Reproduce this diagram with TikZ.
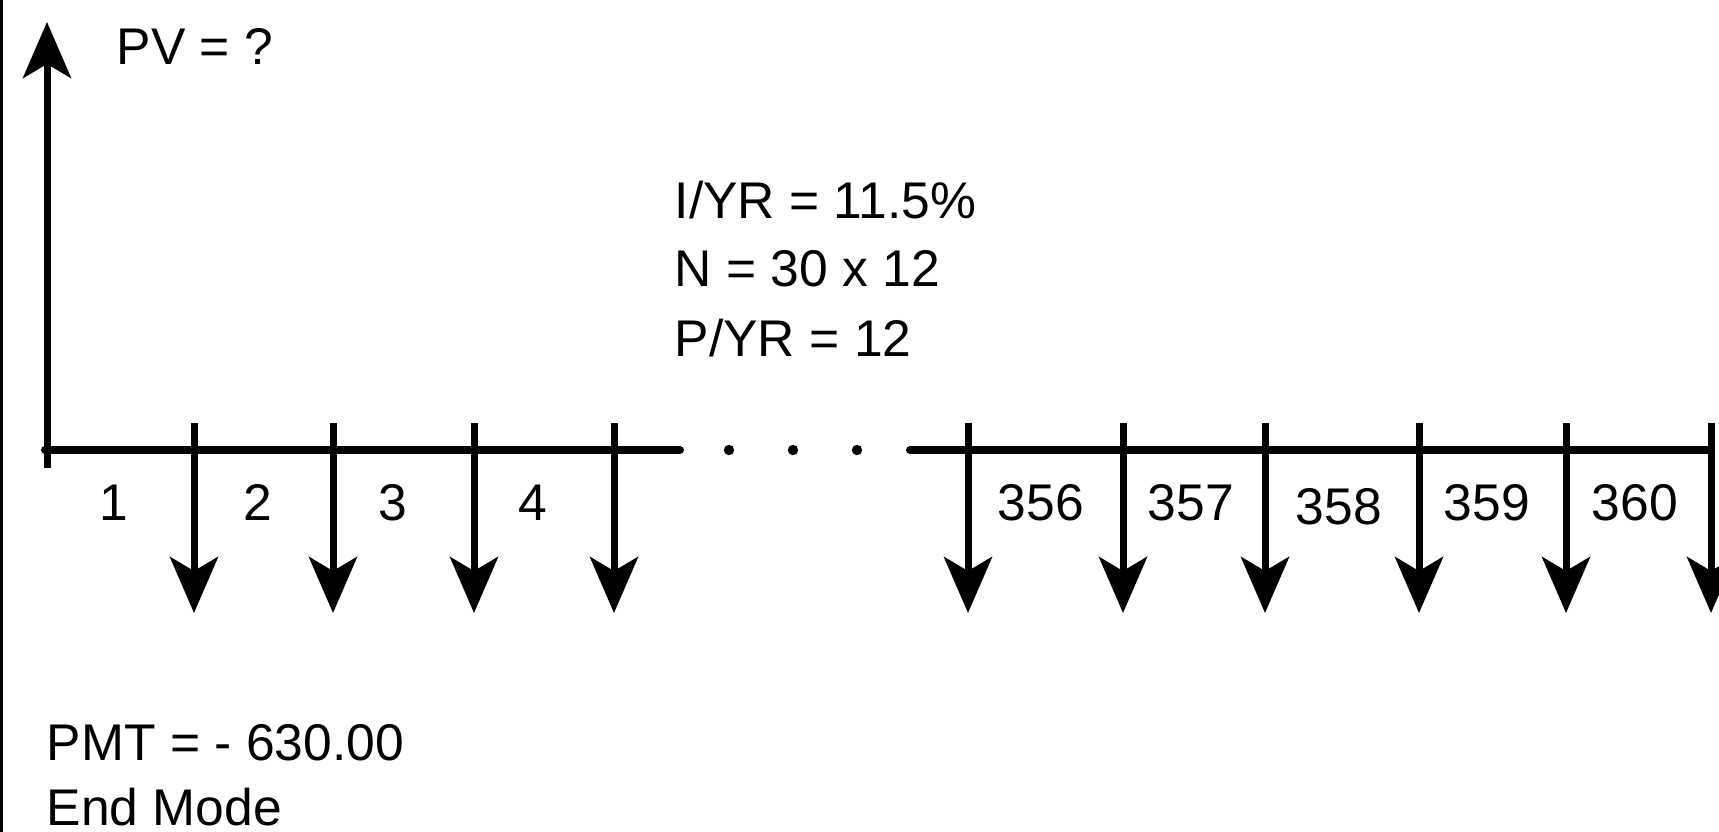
\documentclass[tikz,border=0pt]{standalone}
\usepackage{fontspec}
\setmainfont{Liberation Sans}
\usetikzlibrary{arrows.meta}
\begin{document}
\begin{tikzpicture}[x=0.25pt,y=-0.25pt,
  axisline/.style={line width=2pt, line cap=round},
  flow/.style={line width=1.75pt, -{Stealth[length=14pt,width=12pt,inset=3.5pt]}},
  lbl/.style={inner sep=0pt, anchor=base west, font=\fontsize{12.9pt}{15pt}\selectfont},
  num/.style={inner sep=0pt, anchor=base, font=\fontsize{12.9pt}{15pt}\selectfont},
  dotmark/.style={fill=black}
]
\useasboundingbox (0,0) rectangle (1719,832);
\fill[white] (0,0) rectangle (1719,832);
\clip (0,0) rectangle (1719,832);

% left border
\draw[line width=0.9pt] (1.5,0) -- (1.5,832);

% coordinates of the time line
\coordinate (L0) at (45,450);
\coordinate (L1) at (680,450);
\coordinate (R0) at (910,450);
\coordinate (R1) at (1711,450);
\coordinate (Vb) at (47,468);
\coordinate (Vt) at (47,22);

\draw[axisline] (L0) -- (L1);
\draw[axisline] (R0) -- (R1);
\fill[dotmark] (729,450) circle (1.3pt);
\fill[dotmark] (793,450) circle (1.3pt);
\fill[dotmark] (857,450) circle (1.3pt);

% PV arrow
\draw[flow] (Vb) -- (Vt);

% payment arrows
\foreach \i/\x in {1/194,2/333,3/474,4/614,5/968,6/1123,7/1265,8/1419,9/1566,10/1711}{
  \coordinate (a\i) at (\x,423);
  \coordinate (b\i) at (\x,613);
  \draw[flow] (a\i) -- (b\i);
}

% period labels
\node[num] (p1) at (114,521) {1};
\node[num] (p2) at (258,521) {2};
\node[num] (p3) at (393,521) {3};
\node[num] (p4) at (533,521) {4};
\node[num] (p356) at (1041,521) {356};
\node[num] (p357) at (1191,521) {357};
\node[num] (p358) at (1339,525) {358};
\node[num] (p359) at (1487,521) {359};
\node[num] (p360) at (1635,521) {360};

% texts
\node[lbl] (pv) at (116,65) {PV = ?};
\node[lbl] (iyr) at (674,219) {I/YR = 11.5\%};
\node[lbl] (n) at (674,287) {N = 30 x 12};
\node[lbl] (pyr) at (674,357) {P/YR = 12};
\node[lbl] (pmt) at (46,760) {PMT = - 630.00};
\node[lbl] (mode) at (46,825) {End Mode};
\end{tikzpicture}
\end{document}
